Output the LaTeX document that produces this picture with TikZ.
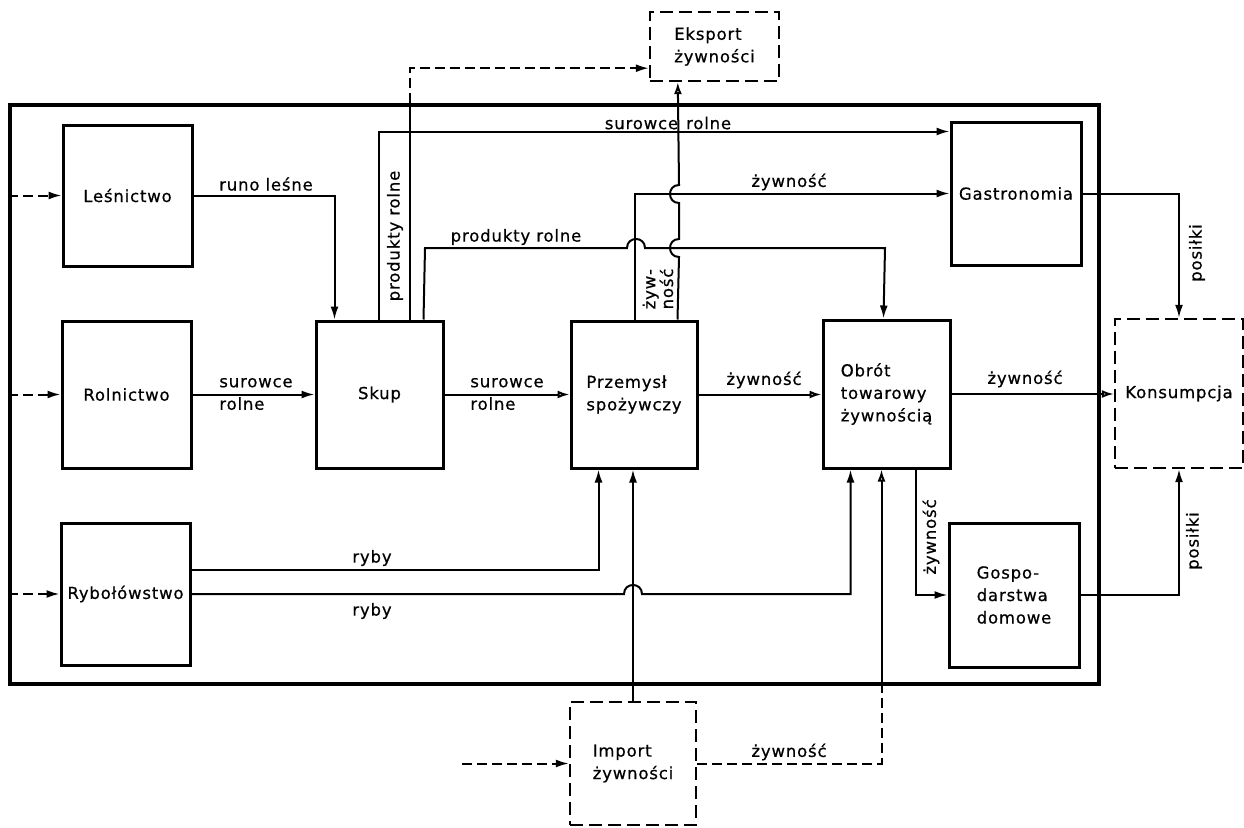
\documentclass[tikz,border=0pt]{standalone}
\usepackage{fontspec}
\setmainfont{DejaVu Sans}[LetterSpace=5,FakeBold=0.6]
\usetikzlibrary{arrows.meta,calc}
\begin{document}
\begin{tikzpicture}[x=1pt,y=-1pt,
  font=\fontsize{16.5}{22.5}\selectfont,
  box/.style={draw,line width=3pt,inner sep=0pt,align=left},
  dbox/.style={draw,line width=2.4pt,inner sep=0pt,align=left,dash pattern=on 13pt off 6pt},
  ln/.style={line width=2pt},
  dsh/.style={line width=2pt,dash pattern=on 10pt off 5pt},
  arr/.style={ln,-{Latex[length=13pt,width=8pt]}},
  oarr/.style={ln,-{Latex[open,length=12pt,width=8pt]}},
  darr/.style={dsh,-{Latex[length=13pt,width=8pt]}},
  lbl/.style={inner sep=1pt}]
\useasboundingbox (0,0) rectangle (1244,827);

% frame
\node[draw,line width=3.8pt,minimum width=1089,minimum height=579,inner sep=0pt] (frame) at (554.5,394.5) {};

% boxes
\node[box,minimum width=129,minimum height=141] (les) at (127.5,195.5) {Leśnictwo};
\node[box,minimum width=129,minimum height=147] (rol) at (126.5,394.5) {Rolnictwo};
\node[box,minimum width=129,minimum height=142] (ryb) at (125.5,594) {Rybołówstwo};
\node[box,minimum width=127,minimum height=147] (skup) at (379.5,394.5) {Skup};
\node[box,minimum width=126,minimum height=147] (prz) at (634,394.5) {Przemysł\\spożywczy};
\node[box,minimum width=127,minimum height=148] (obr) at (886.5,394) {Obrót\\towarowy\\żywnością};
\node[box,minimum width=130,minimum height=143] (gas) at (1016,193.5) {Gastronomia};
\node[box,minimum width=130,minimum height=144] (gos) at (1014,595) {Gospo-\\darstwa\\domowe};
\node[dbox,minimum width=128,minimum height=149] (kon) at (1179,393.5) {Konsumpcja};
\node[dbox,minimum width=129,minimum height=69] (eks) at (714.5,46.5) {Eksport\\żywności};
\node[dbox,minimum width=126,minimum height=123] (imp) at (633,763.5) {Import\\żywności};

% inputs from outside
\draw[darr] (frame.west |- les.west) -- (les.west);
\draw[darr] (frame.west |- rol.west) -- (rol.west);
\draw[darr] (frame.west |- ryb.west) -- (ryb.west);
\coordinate (impin) at (462,763.5);
\draw[darr] (impin) -- (imp.west);

% main chain
\draw[arr] (les.east) -| ($(skup.north west)+(20,0)$);
\draw[arr] (rol.east) -- (skup.west);
\draw[oarr] (skup.east) -- (prz.west);
\draw[oarr] (prz.east) -- (obr.west |- prz.east);
\draw[oarr] (obr.east) -- (kon.west |- obr.east);

% Skup -> Gastronomia (surowce rolne)
\draw[arr] ($(skup.north west)+(64,0)$) |- ($(gas.north west)+(0,11)$);
% Skup -> Eksport
\coordinate (skx) at ($(skup.north west)+(95,0)$);
\draw[ln] (skx) -- (skx |- frame.north);
\draw[darr] (skx |- frame.north) |- ($(eks.south west)+(0,-14)$);
% Skup -> Obrot (produkty rolne)
\draw[arr] ($(skup.north west)+(109,0)$) -- (425,248) -- (627,248)
  .. controls (627,236) and (645,236) .. (645,248) -- (885,248)
  -- ($(obr.north west)+(62,0)$);
% Przemysl -> Gastronomia
\draw[arr] ($(prz.north west)+(65,0)$) |- (gas.west);
% Przemysl -> Eksport
\draw[oarr] ($(prz.north west)+(108,0)$) -- (679,257)
  .. controls (667,257) and (667,239) .. (679,239) -- (679,203)
  .. controls (667,203) and (667,185) .. (679,185)
  -- ($(eks.south west)+(29,0)$);
% posilki
\draw[arr] (gas.east) -| (kon.north);
\draw[arr] (gos.east) -| (kon.south);
% ryby
\draw[arr] ([yshift=24pt]ryb.east) -| ($(prz.south west)+(29,0)$);
\draw[arr] (ryb.east) -- (624,594) .. controls (624,582) and (642,582) .. (642,594)
  -| ($(obr.south west)+(29,0)$);
% import
\draw[arr] (imp.north) -- (imp.north |- prz.south);
\coordinate (ic) at ($(obr.south west)+(60,0)$);
\draw[dsh] (imp.east) -| (ic |- frame.south);
\draw[oarr] (ic |- frame.south) -- (ic);
% Obrot -> Gospodarstwa
\draw[arr] ($(obr.south west)+(94,0)$) |- (gos.west);

% labels
\node[lbl] (l1) at (266,184) {runo leśne};
\node[lbl,align=left] (l2) at (256,394) {surowce\\rolne};
\node[lbl,align=left] (l3) at (507,394) {surowce\\rolne};
\node[lbl] (l4) at (764,380) {żywność};
\node[lbl] (l5) at (1025,379) {żywność};
\node[lbl] (l6) at (372,558) {ryby};
\node[lbl] (l7) at (372,611) {ryby};
\node[lbl,rotate=90] (l8) at (395,236) {produkty rolne};
\node[lbl] (l9) at (516,237) {produkty rolne};
\node[lbl] (l10) at (668,123) {surowce\hspace{8pt}rolne};
\node[lbl] (l11) at (789,182) {żywność};
\node[lbl,rotate=90,align=left,font=\fontsize{16.5}{15}\selectfont] (l12) at (658,289) {żyw-\\ność};
\node[lbl,rotate=90] (l13) at (1197,253) {posiłki};
\node[lbl,rotate=90] (l14) at (1194,541) {posiłki};
\node[lbl,rotate=90] (l15) at (931,537) {żywność};
\node[lbl] (l16) at (789,752) {żywność};
\end{tikzpicture}
\end{document}
